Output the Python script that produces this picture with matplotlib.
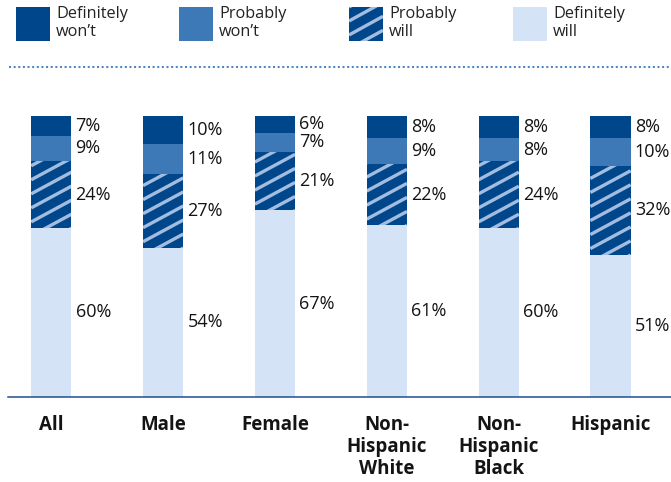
import matplotlib
matplotlib.use("Agg")
import matplotlib.pyplot as plt
from matplotlib.patches import Rectangle
import numpy as np

groups = ["All", "Male", "Female", "Non-\nHispanic\nWhite", "Non-\nHispanic\nBlack", "Hispanic"]
definitely_will = [60, 54, 67, 61, 60, 51]
probably_will = [24, 27, 21, 22, 24, 32]
probably_wont = [9, 11, 7, 9, 8, 10]
definitely_wont = [7, 10, 6, 8, 8, 8]
legend_labels = ["Definitely\nwon\u2019t", "Probably\nwon\u2019t", "Probably\nwill", "Definitely\nwill"]

DARK = "#00468b"
MID = "#3d78b7"
LIGHT = "#d4e3f5"
STRIPE = "#a3bde0"
TXT = "#141414"

plt.rcParams['font.family'] = ['Open Sans', 'DejaVu Sans']

fig = plt.figure(figsize=(6.71, 4.82), dpi=100)
ax = fig.add_axes([8/671, (482-396.7)/482, 663/671, 280.7/482])

x = np.arange(len(groups))
series = np.array([definitely_will, probably_will, probably_wont, definitely_wont], dtype=float)
shares = series / series.sum(axis=0) * 100   # stacks drawn to 100%
colors = [LIGHT, DARK, MID, DARK]
width = 0.36

bottom = np.zeros(len(groups))
bar_sets = []
for vals, c in zip(shares, colors):
    bars = ax.bar(x, vals, width, bottom=bottom, color=c, linewidth=0)
    bar_sets.append(bars)
    bottom += vals

# diagonal stripes on "probably will"
slope = 21.5
step = 5.0
for rect in bar_sets[1]:
    x0, w = rect.get_x(), rect.get_width()
    y0, h = rect.get_y(), rect.get_height()
    for b in np.arange(y0 - slope*w, y0 + h + step, step):
        ln, = ax.plot([x0, x0 + w], [b, b + slope*w], color=STRIPE, lw=2.4,
                      solid_capstyle='butt')
        ln.set_clip_path(rect)

# value labels
for raw, bars in zip(series, bar_sets):
    for rect, v in zip(bars, raw):
        ax.annotate(f"{int(v)}%", xy=(rect.get_x() + rect.get_width(), rect.get_y() + rect.get_height()/2),
                    xytext=(3, 0), textcoords='offset points', va='center', ha='left',
                    fontsize=13, color=TXT)

ax.set_xlim(-0.387, 5.541)
ax.set_ylim(0, 100)
ax.set_xticks(x, groups, fontweight='bold', fontsize=13.5, va='top', color=TXT, linespacing=1.15)
ax.tick_params(axis='x', length=0, pad=13)
ax.set_yticks([])
for s in ['top', 'right', 'left']:
    ax.spines[s].set_visible(False)
ax.spines['bottom'].set_color('#1f4e8c')
ax.spines['bottom'].set_linewidth(1.1)

# legend drawn in pixel space
lax = fig.add_axes([0, 0, 1, 1])
lax.set_xlim(0, 671)
lax.set_ylim(482, 0)
lax.axis('off')
sq_x = [16, 179, 349, 513]
sq_c = [DARK, MID, DARK, LIGHT]
for i, (sx, lab, c) in enumerate(zip(sq_x, legend_labels, sq_c)):
    r = Rectangle((sx, 7), 34, 34, color=c, lw=0)
    lax.add_patch(r)
    if i == 2:
        for b in np.arange(7, 7 + 34 + 0.55*34 + 14, 14):
            ln, = lax.plot([sx, sx + 34], [b, b - 0.55*34], color=STRIPE, lw=2.4,
                           solid_capstyle='butt')
            ln.set_clip_path(r)
    lax.text(sx + 40, 6.5, lab, va='top', ha='left', fontsize=11.7, color='#222222',
             linespacing=1.15)

lax.plot([9, 671], [66.7, 66.7], color='#4a86c4', lw=1.45, linestyle=(0, (1, 1.3)))

fig.savefig("out.png", dpi=100)
